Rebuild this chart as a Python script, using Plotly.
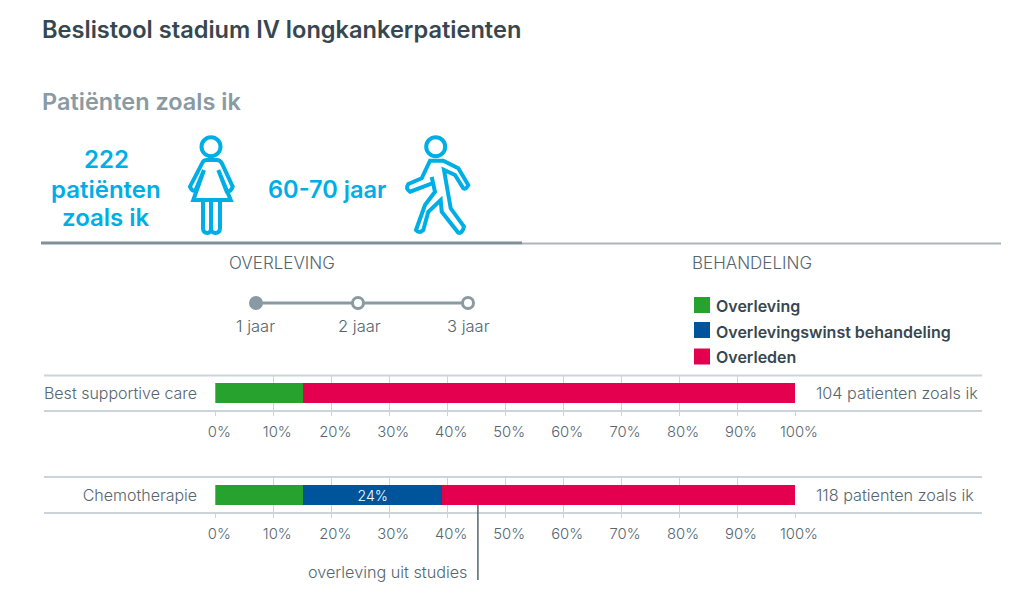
import plotly.graph_objects as go

W, H = 1024, 596
DARK = '#37474f'
TEXT = '#55666f'
GREY = '#8a9aa3'
CYAN = '#00aee6'
RULE = '#cdd4d9'
FONT = 'Inter'

# data
treatments = ['Best supportive care', 'Chemotherapie']
overleving = [15.2, 15.2]
winst = [None, 23.9]
winst_labels = ['', '24%']
overleden = [84.8, 60.9]
patient_labels = ['104 patienten zoals ik', '118 patienten zoals ik']
studie_overleving = 45.3
tick_vals = [0, 10, 20, 30, 40, 50, 60, 70, 80, 90, 100]
tick_text = ['0%', '10%', '20%', '30%', '40%', '50%', '60%', '70%', '80%', '90%', '100%']
jaren = ['1 jaar', '2 jaar', '3 jaar']
legend_names = ['Overleving', 'Overlevingswinst behandeling', 'Overleden']
legend_colors = ['#28a22f', '#00549c', '#e4004f']

fig = go.Figure()

# one row per treatment, each on its own axis pair
rows = [('x', 'y', 375.5, 411), ('x2', 'y2', 477, 513)]
for i, (xa, ya, top, bottom) in enumerate(rows):
    y = [treatments[i]]
    for vals, color, labels in [(overleving, legend_colors[0], None),
                                (winst, legend_colors[1], winst_labels),
                                (overleden, legend_colors[2], None)]:
        fig.add_bar(
            x=[vals[i]], y=y, orientation='h', xaxis=xa, yaxis=ya,
            marker=dict(color=color, line_width=0), showlegend=False,
            text=[labels[i]] if labels else None,
            textposition='inside', insidetextanchor='middle', textangle=0,
            constraintext='none', cliponaxis=False,
            textfont=dict(color='white', size=14, family=FONT, weight=300),
        )
    axis_x = dict(
        domain=[215.3 / W, 795 / W], range=[0, 100], anchor=ya, automargin=False,
        tickvals=tick_vals, ticktext=tick_text, ticks='outside', ticklen=4,
        tickcolor=RULE, showgrid=True, gridcolor=RULE, gridwidth=1, zeroline=False,
        showline=False, ticklabelshift=4, ticklabelstandoff=3,
        tickfont=dict(size=14.8, color=TEXT, family=FONT, weight=300),
    )
    axis_y = dict(
        domain=[1 - bottom / H, 1 - top / H], anchor=xa, showgrid=False, automargin=False,
        zeroline=False, showline=False, ticks='outside', ticklen=14,
        tickcolor='rgba(0,0,0,0)', tickfont=dict(size=16, color=TEXT, family=FONT, weight=300),
    )
    fig.update_layout({'xaxis' + xa[1:]: axis_x, 'yaxis' + ya[1:]: axis_y})

# full page axis in pixels for the text, icons, timeline and legend
fig.update_layout(
    xaxis3=dict(domain=[0, 1], range=[0, W], visible=False, anchor='y3', fixedrange=True, automargin=False),
    yaxis3=dict(domain=[0, 1], range=[H, 0], visible=False, anchor='x3', fixedrange=True, automargin=False),
)

# timeline
fig.add_scatter(
    x=[256, 358, 468], y=[303, 303, 303], xaxis='x3', yaxis='y3', mode='lines+markers',
    line=dict(color=GREY, width=3), showlegend=False,
    marker=dict(size=11, color=[GREY, 'white', 'white'], line=dict(color=GREY, width=3)),
)

# legend squares
fig.add_scatter(
    x=[702, 702, 702], y=[305, 330, 356.5], xaxis='x3', yaxis='y3', mode='markers',
    marker=dict(symbol='square', size=16, color=legend_colors), showlegend=False,
)


def label(text, x, y, size=16.2, color=TEXT, weight=300, anchor='left'):
    # annotations keep a small pad round the text
    shift = {'left': -2, 'right': 2, 'center': 0}[anchor]
    fig.add_annotation(
        text=text, x=x, y=y, xref='x3', yref='y3', xshift=shift,
        showarrow=False, xanchor=anchor, yanchor='middle',
        font=dict(size=size, color=color, family=FONT, weight=weight),
    )


label('Beslistool stadium IV longkankerpatienten', 42, 29, 23.6, DARK, 600)
label('Patiënten zoals ik', 42, 101, 23.5, GREY, 600)
label('222', 106, 159, 24, CYAN, 600, 'center')
label('patiënten', 106, 189, 24, CYAN, 600, 'center')
label('zoals ik', 106, 217, 24, CYAN, 600, 'center')
label('60-70 jaar', 327, 189, 23.6, CYAN, 600, 'center')
label('OVERLEVING', 282, 263, 17, TEXT, 300, 'center')
label('BEHANDELING', 752, 263, 17, TEXT, 300, 'center')
for jaar, x in zip(jaren, [255, 359, 468]):
    label(jaar, x, 326, 16.5, TEXT, 300, 'center')
for name, y in zip(legend_names, [306, 332, 357]):
    label(name, 716, y, 16, DARK, 600)
for text, y in zip(patient_labels, [393, 495]):
    label(text, 816, y)
label('overleving uit studies', 467, 572, 16.2, TEXT, 300, 'right')

# rules
shapes = [
    dict(type='line', x0=41, x1=522, y0=243, y1=243, line=dict(color='#7f909a', width=3)),
    dict(type='line', x0=522, x1=1001, y0=243.5, y1=243.5, line=dict(color='#a9b5bb', width=2)),
]
for y in [375.5, 411, 477, 513]:
    shapes.append(dict(type='line', x0=44, x1=982, y0=y, y1=y, line=dict(color=RULE, width=2)))

# icons
icon_line = dict(color=CYAN, width=4)
woman = ('M 193.3,200 L 204,170 L 195.7,190 Q 192,192 190,186.7 L 203,161.7 Q 204,160 206.7,160 '
         'L 216.7,160 Q 220,160 221.7,163 L 232.7,186.7 Q 231,192 226.7,191.7 L 218.3,170 '
         'L 230.7,200 Z M 203,200 V 228 Q 203,233 207.5,233 Q 211,233 211,228 V 200 '
         'M 211,228 Q 211,233 215.5,233 Q 220,233 220,228 V 200')
walker = ('M 430,160.7 L 443.3,160.7 L 458.3,168.3 L 468.3,185 Q 466,190 463.3,188.3 L 455,175 '
          'L 444,170 L 450.7,208.3 L 464,226.7 Q 462,234 458.3,232.7 L 441.7,211.7 L 440.7,200 '
          'L 428.3,211.7 L 423.3,230 Q 419,234 416,230 L 425,205 L 435,191.7 L 431.7,177 '
          'L 433,183 L 410,191.7 Q 405,189 408.3,184 L 421.7,178.3 Z')
for cx in [211, 435.7]:
    shapes.append(dict(type='circle', x0=cx - 9.5, x1=cx + 9.5, y0=137.2, y1=156.2, line=icon_line))
shapes.append(dict(type='path', path=woman, line=icon_line))
shapes.append(dict(type='path', path=walker, line=icon_line))
for s in shapes:
    s.update(xref='x3', yref='y3')

# marker for survival from studies
shapes.append(dict(type='line', xref='x2', yref='y3', x0=studie_overleving, x1=studie_overleving,
                   y0=505, y1=580, line=dict(color=TEXT, width=1.5)))

fig.update_layout(
    width=W, height=H, margin=dict(l=0, r=0, t=0, b=0), barmode='stack', bargap=0.44,
    paper_bgcolor='white', plot_bgcolor='rgba(0,0,0,0)', shapes=shapes,
    font=dict(family=FONT, color=TEXT),
)

fig.write_html('out.html', config=dict(displayModeBar=False),
               post_script="document.body.style.margin='0';")
